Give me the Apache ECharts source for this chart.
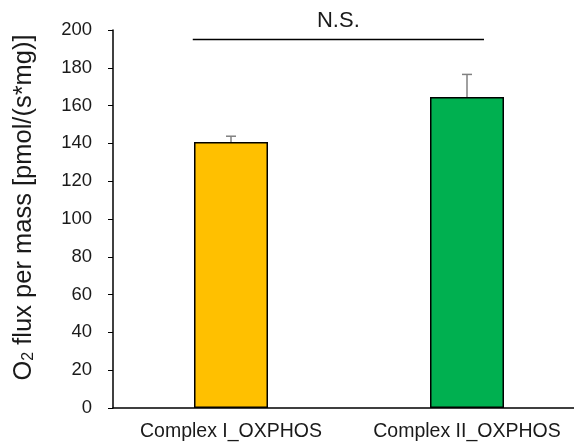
<!DOCTYPE html>
<html><head><meta charset="utf-8">
<script src="https://cdn.jsdelivr.net/npm/echarts@6/dist/echarts.min.js"></script>
<style>html,body{margin:0;padding:0;background:#fff;overflow:hidden}#c{width:574px;height:445px}</style>
</head><body><div id="c"></div>
<script>
const categories = ['Complex I_OXPHOS', 'Complex II_OXPHOS'];
const means = [140.8, 164.5];
const errors = [3.0, 12.0];
const barColors = ['#FFC000', '#00B050'];
const sigLevel = 195;
const sigLabel = 'N.S.';

const chart = echarts.init(document.getElementById('c'));
const font = 'Liberation Sans, Arial, sans-serif';
chart.setOption({
  animation: false,
  grid: { left: 113, right: -11, top: 30, bottom: 37, outerBoundsMode: 'none', containLabel: false },
  xAxis: {
    type: 'category', data: categories,
    axisLine: { lineStyle: { color: '#000', width: 1.5 } },
    axisTick: { show: false },
    axisLabel: { color: '#1a1a1a', fontFamily: font, fontSize: 19.5, margin: 14, interval: 0, hideOverlap: false }
  },
  yAxis: {
    type: 'value', min: 0, max: 200, interval: 20,
    splitLine: { show: false },
    axisLine: { show: true, lineStyle: { color: '#000', width: 1.5 } },
    axisTick: { show: true, inside: false, length: 5, lineStyle: { color: '#000' } },
    axisLabel: { color: '#1a1a1a', fontFamily: font, fontSize: 18.5, margin: 21 },
    name: '{a|O}{s|2}{a| flux per mass [pmol/(s*mg)]}',
    nameLocation: 'middle', nameGap: 76,
    nameTextStyle: { padding: [0, 0, 0, 23], rich: {
      a: { fontFamily: font, fontSize: 25.5, color: '#1a1a1a' },
      s: { fontFamily: font, fontSize: 16, color: '#1a1a1a', verticalAlign: 'bottom', padding: [9, 0, 0, 0] }
    } }
  },
  series: [
    {
      type: 'bar', barWidth: 74,
      data: means.map((v, i) => ({ value: v, itemStyle: { color: barColors[i] } })),
      itemStyle: { borderColor: '#000', borderWidth: 1.5 }
    },
    {
      type: 'custom', z: 1,
      data: means.map((v, i) => [i, v, v + errors[i]]),
      renderItem: function (params, api) {
        const p0 = api.coord([api.value(0), api.value(1)]);
        const p1 = api.coord([api.value(0), api.value(2)]);
        const hw = 5;
        return { type: 'group', children: [
          { type: 'line', shape: { x1: p0[0], y1: p0[1], x2: p1[0], y2: p1[1] }, style: { stroke: '#808080', lineWidth: 1.5 } },
          { type: 'line', shape: { x1: p1[0] - hw, y1: p1[1], x2: p1[0] + hw, y2: p1[1] }, style: { stroke: '#808080', lineWidth: 1.5 } }
        ] };
      }
    },
    {
      type: 'custom', z: 3,
      data: [[0, 1, sigLevel]],
      renderItem: function (params, api) {
        const band = api.size([1, 0])[0];
        const a = api.coord([api.value(0), api.value(2)]);
        const b = api.coord([api.value(1), api.value(2)]);
        const x1 = a[0] - 0.162 * band, x2 = b[0] + 0.072 * band;
        return { type: 'group', children: [
          { type: 'line', shape: { x1: x1, y1: a[1], x2: x2, y2: a[1] }, style: { stroke: '#000', lineWidth: 1.5 } },
          { type: 'text', x: (x1 + x2) / 2, y: a[1] - 19, style: { text: sigLabel, fontFamily: font, fontSize: 22, fill: '#1a1a1a', align: 'center', verticalAlign: 'middle' } }
        ] };
      }
    }
  ]
});
</script></body></html>
